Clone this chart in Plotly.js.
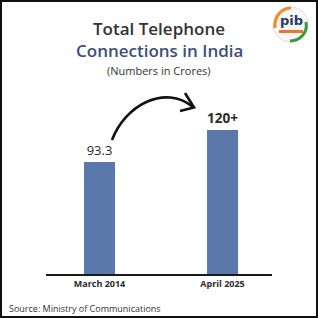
<!DOCTYPE html>
<html>
<head>
<meta charset="utf-8">
<script src="https://cdn.plot.ly/plotly-3.0.1.min.js"></script>
<style>
html,body{margin:0;padding:0;background:#fff;}
#wrap{position:relative;width:318px;height:318px;}
#chart{width:318px;height:318px;}
#frame{position:absolute;left:0;top:0;width:318px;height:318px;border:2px solid #111;box-sizing:border-box;pointer-events:none;}
</style>
</head>
<body>
<div id="wrap"><div id="chart"></div><div id="frame"></div></div>
<script>
const categories = ['March 2014', 'April 2025'];
const values = [93.3, 120];
const valueLabels = ['93.3', '120+'];
const titleLine1 = 'Total Telephone';
const titleLine2 = 'Connections in India';
const subtitle = '(Numbers in Crores)';
const source = 'Source: Ministry of Communications';

const W = 318, H = 318;
const L = 46, R = 272, T = 100, B = 274;
const xr = [-0.435, 1.402];
const yr = [0, 145];
// pixel -> paper helpers for decorations
const px = x => (x - L) / (R - L);
const py = y => (B - y) / (B - T);

const positions = categories.map((c, i) => i);
const trace = {
  type: 'bar',
  x: positions,
  y: values,
  width: 0.252,
  marker: {color: '#5979ab', line: {width: 0}},
  text: valueLabels.map((t, i) => i === 1 ? '<b>' + t + '</b>' : t),
  textposition: 'outside',
  textfont: {family: 'Open Sans', size: [13, 16], color: '#2b2b2b'},
  cliponaxis: false,
  hoverinfo: 'none'
};

function P(x, y) { return px(x).toFixed(4) + ',' + py(y).toFixed(4); }

const shapes = [
  // curved arrow
  {type: 'path', xref: 'paper', yref: 'paper',
   path: 'M' + P(112,140) + ' C' + P(125,105) + ' ' + P(165,84) + ' ' + P(193,107),
   line: {color: '#111', width: 2.6}},
  {type: 'path', xref: 'paper', yref: 'paper',
   path: 'M' + P(185,93) + ' L' + P(194,107.5) + ' L' + P(180,111),
   line: {color: '#111', width: 2.6}},
  // logo circle
  {type: 'circle', xref: 'paper', yref: 'paper',
   x0: px(273), x1: px(308), y0: py(42), y1: py(7),
   fillcolor: '#f7f7f7', line: {color: '#e0e0e0', width: 1}},
  {type: 'path', xref: 'paper', yref: 'paper',
   path: 'M' + P(275,28) + ' C' + P(274,16) + ' ' + P(282,8) + ' ' + P(291,8),
   line: {color: '#f08a24', width: 3}},
  {type: 'path', xref: 'paper', yref: 'paper',
   path: 'M' + P(306,22) + ' C' + P(308,33) + ' ' + P(300,41) + ' ' + P(290,41),
   line: {color: '#3a9a3a', width: 3}},
  {type: 'rect', xref: 'paper', yref: 'paper',
   x0: px(279), x1: px(303), y0: py(33), y1: py(30),
   fillcolor: '#e8792b', line: {width: 0}}
];

const annotations = [
  {text: titleLine1, x: px(159), y: py(28), xref: 'paper', yref: 'paper', showarrow: false,
   font: {family: 'Open Sans', size: 17, weight: 600, color: '#333333'}, xanchor: 'center', yanchor: 'middle'},
  {text: titleLine2, x: px(159), y: py(50), xref: 'paper', yref: 'paper', showarrow: false,
   font: {family: 'Open Sans', size: 17, weight: 600, color: '#3b4f7a'}, xanchor: 'center', yanchor: 'middle'},
  {text: subtitle, x: px(159), y: py(71), xref: 'paper', yref: 'paper', showarrow: false,
   font: {family: 'Open Sans', size: 11, color: '#333333'}, xanchor: 'center', yanchor: 'middle'},
  {text: source, x: px(7), y: py(308), xref: 'paper', yref: 'paper', showarrow: false,
   font: {family: 'Open Sans', size: 9, color: '#333333'}, xanchor: 'left', yanchor: 'middle'},
  {text: '<b>pib</b>', x: px(291), y: py(21), xref: 'paper', yref: 'paper', showarrow: false,
   font: {family: 'DejaVu Sans', size: 13, color: '#2a3a6a'}, xanchor: 'center', yanchor: 'middle'}
];

const layout = {
  width: W, height: H,
  margin: {l: L, r: W - R, t: T, b: H - B, pad: 0},
  paper_bgcolor: '#ffffff', plot_bgcolor: '#ffffff',
  showlegend: false,
  xaxis: {range: xr, tickvals: positions, ticktext: categories, showgrid: false, zeroline: false,
          showline: true, linecolor: '#1a1a1a', linewidth: 2, ticks: '',
          tickfont: {family: 'Open Sans', size: 9, weight: 700, color: '#2b2b2b'}, fixedrange: true},
  yaxis: {range: yr, visible: false, showgrid: false, zeroline: false, fixedrange: true},
  shapes: shapes,
  annotations: annotations
};

Plotly.newPlot('chart', [trace], layout, {staticPlot: true, displayModeBar: false});
</script>
</body>
</html>
